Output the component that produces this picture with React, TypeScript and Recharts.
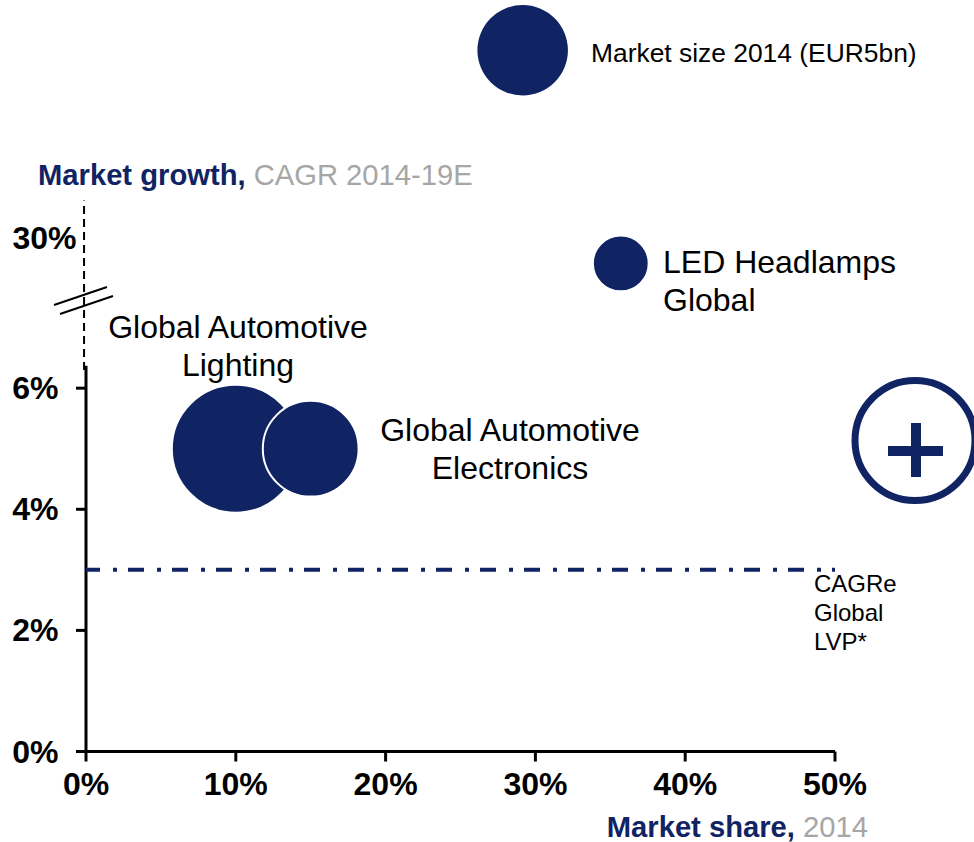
import { ReferenceLine, Scatter, ScatterChart, XAxis, YAxis, ZAxis } from 'recharts'

const NAVY = '#102464'
const GREY = '#a6a6a6'
const FONT = '"Liberation Sans", Arial, sans-serif'

const xTicks = [0, 10, 20, 30, 40, 50]
const yTicks = [0, 2, 4, 6, 30]

// y axis is broken above 6%, values there are squeezed
const BREAK_AT = 6
const SQUEEZE = 0.103
const toAxis = (v: number) => (v <= BREAK_AT ? v : BREAK_AT + (v - BREAK_AT) * SQUEEZE)
const fromAxis = (v: number) => (v <= BREAK_AT ? v : Math.round(BREAK_AT + (v - BREAK_AT) / SQUEEZE))

const bubbleShares = [10, 15, 35.7]
const bubbleGrowth = [5, 5, 26]
const bubbleSizes = [10, 5.6, 1.9]
const bubbles = bubbleShares.map((x, i) => ({ x, y: toAxis(bubbleGrowth[i]), z: bubbleSizes[i] }))

// size key sits above the plot
const sizeKey = [{ x: 29.15, y: 11.58, z: 5 }]

const marketCagr = 3

function YTick({ y, payload }: any) {
  const isBroken = payload.value > BREAK_AT
  return (
    <g>
      {!isBroken && <line x1={86} x2={76} y1={y} y2={y} stroke="#000" strokeWidth={3} />}
      <text
        x={isBroken ? 76.5 : 58.5}
        y={y + 11}
        textAnchor="end"
        fontFamily={FONT}
        fontSize={32}
        fontWeight={700}
        fill="#000"
      >
        {fromAxis(payload.value)}%
      </text>
    </g>
  )
}

function Label({ x, y, lines, size = 32, anchor = 'middle', step = 38 }: any) {
  return (
    <text x={x} y={y} textAnchor={anchor} fontFamily={FONT} fontSize={size} fill="#000">
      {lines.map((l: string, i: number) => (
        <tspan key={l} x={x} dy={i === 0 ? 0 : step}>
          {l}
        </tspan>
      ))}
    </text>
  )
}

export default function App() {
  return (
    <div style={{ position: 'absolute', left: 0, top: 0, width: 974, height: 842, background: '#fff' }}>
      <ScatterChart width={974} height={842} margin={{ top: 0, right: 139, bottom: 0, left: 0 }}>
        <XAxis
          type="number"
          dataKey="x"
          domain={[0, 50]}
          ticks={xTicks}
          interval={0}
          height={90.5}
          tickSize={10}
          tickMargin={11}
          tickFormatter={(v) => `${v}%`}
          axisLine={{ stroke: '#000', strokeWidth: 3 }}
          tickLine={{ stroke: '#000', strokeWidth: 3 }}
          tick={{ fill: '#000', fontSize: 32, fontWeight: 700, fontFamily: FONT }}
        />
        <YAxis
          type="number"
          dataKey="y"
          domain={[0, 12.41]}
          ticks={yTicks.map(toAxis)}
          interval={0}
          width={86}
          axisLine={false}
          tickLine={false}
          tick={<YTick />}
        />
        <ZAxis type="number" dataKey="z" domain={[0, 10]} range={[0, 12868]} />

        <ReferenceLine
          segment={[{ x: 0, y: 0 }, { x: 0, y: 6.37 }]}
          stroke="#000"
          strokeWidth={3}
        />
        <ReferenceLine
          segment={[{ x: -0.13, y: 6.3 }, { x: -0.13, y: 9.1 }]}
          ifOverflow="visible"
          stroke="#000"
          strokeWidth={2}
          strokeDasharray="8 5"
        />
        <ReferenceLine
          y={marketCagr}
          stroke={NAVY}
          strokeWidth={4}
          strokeDasharray="16 13 4 11"
          strokeDashoffset={2}
        />

        <Scatter data={sizeKey} fill={NAVY} isAnimationActive={false} />
        <Scatter data={bubbles} fill={NAVY} stroke="#fff" strokeWidth={2} isAnimationActive={false} />

        {/* axis break */}
        <line x1={54} y1={305} x2={107} y2={287} stroke="#000" strokeWidth={2} />
        <line x1={60} y1={314} x2={113} y2={296} stroke="#000" strokeWidth={2} />

        {/* plus badge */}
        <circle cx={915} cy={440.5} r={60} fill="none" stroke={NAVY} strokeWidth={7} />
        <rect x={888} y={446} width={55} height={10} fill={NAVY} />
        <rect x={911} y={423} width={10} height={54} fill={NAVY} />

        <text x={38} y={185} fontFamily={FONT} fontSize={29.2}>
          <tspan fontWeight={700} fill={NAVY}>Market growth, </tspan>
          <tspan fill={GREY}>CAGR 2014-19E</tspan>
        </text>
        <text x={868} y={837} textAnchor="end" fontFamily={FONT} fontSize={29.2}>
          <tspan fontWeight={700} fill={NAVY}>Market share, </tspan>
          <tspan fill={GREY}>2014</tspan>
        </text>

        <Label x={591} y={62} lines={['Market size 2014 (EUR5bn)']} size={26.4} anchor="start" />
        <Label x={663} y={273} lines={['LED Headlamps', 'Global']} anchor="start" />
        <Label x={238} y={338} lines={['Global Automotive', 'Lighting']} />
        <Label x={510} y={441} lines={['Global Automotive', 'Electronics']} />
        <Label x={814} y={592} lines={['CAGRe', 'Global', 'LVP*']} size={24} anchor="start" step={29} />
      </ScatterChart>
    </div>
  )
}
